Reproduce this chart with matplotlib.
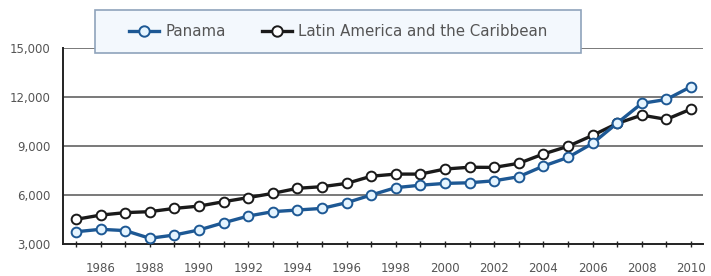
import matplotlib
matplotlib.use("Agg")
import matplotlib.pyplot as plt
from matplotlib.patches import Rectangle
from matplotlib.lines import Line2D

years = list(range(1985, 2011))
panama = [3750, 3900, 3820, 3350, 3550, 3860, 4300, 4710, 4980, 5080, 5180, 5530, 6000,
          6450, 6600, 6710, 6750, 6870, 7120, 7770, 8300, 9160, 10400, 11610, 11850, 12630]
lac = [4510, 4770, 4920, 4980, 5180, 5320, 5590, 5840, 6100, 6410, 6510, 6710, 7150,
       7280, 7280, 7590, 7700, 7690, 7940, 8510, 8980, 9650, 10380, 10890, 10630, 11260]
yticks = [3000, 6000, 9000, 12000, 15000]
ytick_labels = ["3,000", "6,000", "9,000", "12,000", "15,000"]
xlabel_years = list(range(1986, 2011, 2))
series_names = ["Panama", "Latin America and the Caribbean"]

plt.rcParams['font.family'] = ['Liberation Sans Narrow', 'DejaVu Sans']

fig = plt.figure(figsize=(7.11, 2.76), dpi=100)
ax = fig.add_axes([63/711, 1-244/276, (703-63)/711, (244-48)/276])

blue = '#1d5894'
txt = '#555555'

for yv in yticks[1:]:
    ax.axhline(yv, color='#555555', lw=1.1, zorder=1)

ax.plot(years, lac, color='#1a1a1a', lw=2.4, marker='o', ms=7, mfc='white',
        mec='#1a1a1a', mew=1.4, zorder=3)
ax.plot(years, panama, color=blue, lw=2.4, marker='o', ms=7, mfc='#e4f4ff',
        mec=blue, mew=1.4, zorder=4)

ax.set_xlim(1984.47, 2010.49)
ax.set_ylim(3000, 15000)
ax.set_yticks(yticks)
ax.set_yticklabels(ytick_labels)
ax.set_xticks(years)
ax.set_xticklabels([str(y) if y in xlabel_years else "" for y in years])
ax.tick_params(axis='x', direction='inout', length=4, width=1, color='#222222',
               labelsize=8.5, labelcolor=txt, pad=11)
ax.tick_params(axis='y', length=0, labelsize=8.5, labelcolor=txt, pad=9)
for s in ['top', 'right']:
    ax.spines[s].set_visible(False)
for s in ['left', 'bottom']:
    ax.spines[s].set_color('#222222')
    ax.spines[s].set_linewidth(1.4)

# legend box
x0, x1, yt, yb = 95, 581, 10, 53
rect = Rectangle((x0/711, 1-yb/276), (x1-x0)/711, (yb-yt)/276, transform=fig.transFigure,
                 facecolor='#f3f8fd', edgecolor='#8fa3bb', lw=1.2, zorder=5)
fig.patches.append(rect)
handles = [Line2D([], [], color=blue, lw=2.4, marker='o', ms=7.5, mfc='#e4f4ff', mec=blue, mew=1.4),
           Line2D([], [], color='#1a1a1a', lw=2.4, marker='o', ms=7.5, mfc='white', mec='#1a1a1a', mew=1.4)]
leg = fig.legend(handles, series_names, loc='center', bbox_to_anchor=((x0+x1)/2/711, 1-(yt+yb)/2/276),
                 ncol=2, frameon=False, fontsize=10.8, handlelength=2.0, columnspacing=2.4,
                 handletextpad=0.4, labelcolor=txt)
leg.set_zorder(6)

fig.savefig("out.png", dpi=100)
